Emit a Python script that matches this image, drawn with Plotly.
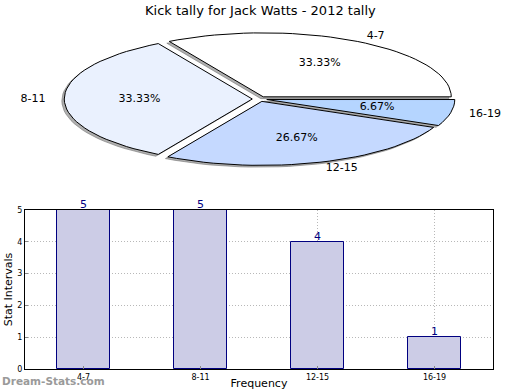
import math
import plotly.graph_objects as go

categories = ["4-7", "8-11", "12-15", "16-19"]
counts = [5, 5, 4, 1]
slice_colors = ["#FFFFFF", "#EAF1FE", "#C5D9FF", "#B5D5FF"]
title_text = "Kick tally for Jack Watts - 2012 tally"

W, H = 520, 390
RX, RY = 188.0, 64.0          # pixel radii of the squashed pie
CX, CY = 259.6, 99.0          # pixel center
EXPLODE = 0.039
SHADOW_DX, SHADOW_DY = -0.013, -0.028

fig = go.Figure()

total = sum(counts)
start = 0.0
label_x, label_y, label_t, label_pos = [], [], [], []
pct_x, pct_y, pct_t = [], [], []
slices = []
for cat, v, col in zip(categories, counts, slice_colors):
    frac = v / total
    a0 = start * 2 * math.pi
    a1 = (start + frac) * 2 * math.pi
    mid = (a0 + a1) / 2
    ox, oy = EXPLODE * math.cos(mid), EXPLODE * math.sin(mid)
    n = max(8, int(120 * frac))
    xs = [ox] + [ox + math.cos(a0 + (a1 - a0) * i / n) for i in range(n + 1)] + [ox]
    ys = [oy] + [oy + math.sin(a0 + (a1 - a0) * i / n) for i in range(n + 1)] + [oy]
    slices.append((xs, ys, col))
    lx = ox + 1.1 * math.cos(mid)
    ly = oy + 1.1 * math.sin(mid)
    label_x.append(lx); label_y.append(ly); label_t.append(cat)
    label_pos.append("middle right" if math.cos(mid) > 0 else "middle left")
    pct_x.append(ox + 0.6 * math.cos(mid)); pct_y.append(oy + 0.6 * math.sin(mid))
    pct_t.append(f"{frac*100:.2f}%")
    start += frac

# shadows
for xs, ys, col in slices:
    fig.add_trace(go.Scatter(x=[x + SHADOW_DX for x in xs], y=[y + SHADOW_DY for y in ys],
                             mode="lines", fill="toself", fillcolor="rgba(110,110,110,0.55)",
                             line=dict(color="rgba(110,110,110,0.55)", width=1),
                             hoverinfo="skip", showlegend=False, xaxis="x", yaxis="y"))
for xs, ys, col in slices:
    fig.add_trace(go.Scatter(x=xs, y=ys, mode="lines", fill="toself", fillcolor=col,
                             line=dict(color="black", width=1), hoverinfo="skip",
                             showlegend=False, xaxis="x", yaxis="y"))
for x, y, t, p in zip(label_x, label_y, label_t, label_pos):
    fig.add_trace(go.Scatter(x=[x], y=[y], mode="text", text=[t], textposition=p,
                             textfont=dict(family="DejaVu Sans", size=11, color="black"),
                             showlegend=False, hoverinfo="skip", xaxis="x", yaxis="y"))
fig.add_trace(go.Scatter(x=pct_x, y=pct_y, mode="text", text=pct_t, textposition="middle center",
                         textfont=dict(family="DejaVu Sans", size=11, color="black"),
                         showlegend=False, hoverinfo="skip", xaxis="x", yaxis="y"))

# bar chart
fig.add_trace(go.Bar(x=categories, y=counts, width=0.45, marker=dict(color="#CCCCE6",
                     line=dict(color="#000080", width=1)), showlegend=False,
                     xaxis="x2", yaxis="y2", hoverinfo="skip"))
for c, v in zip(categories, counts):
    fig.add_annotation(x=c, y=v, xref="x2", yref="y2", text=str(v), showarrow=False,
                       yanchor="bottom", yshift=-3,
                       font=dict(family="DejaVu Sans", size=11, color="#000080"))

x_left = -CX / RX
x_right = (W - CX) / RX
y_top = CY / RY
y_bot = -(H - CY) / RY

fig.update_layout(
    width=W, height=H, margin=dict(l=0, r=0, t=0, b=0, autoexpand=False),
    paper_bgcolor="white", plot_bgcolor="rgba(0,0,0,0)",
    font=dict(family="DejaVu Sans", color="black"),
    xaxis=dict(domain=[0, 1], range=[x_left, x_right], visible=False, fixedrange=True),
    yaxis=dict(domain=[0, 1], range=[y_bot, y_top], visible=False, fixedrange=True),
    xaxis2=dict(domain=[25 / W, 493 / W], anchor="y2", range=[-0.5, 3.5], automargin=False,
                showline=True, linecolor="black", linewidth=1, mirror=True,
                showgrid=True, gridcolor="#b8b8b8", griddash="1px,2px", gridwidth=1,
                ticks="inside", ticklen=3, tickcolor="#888", layer="above traces",
                tickfont=dict(size=8, family="DejaVu Sans"),
                title=dict(text="Frequency", font=dict(size=11), standoff=15)),
    yaxis2=dict(domain=[(H - 369) / H, (H - 210) / H], anchor="x2", range=[0, 5], automargin=False,
                showline=True, linecolor="black", linewidth=1, mirror=True,
                showgrid=True, gridcolor="#b8b8b8", griddash="1px,2px", gridwidth=1,
                ticks="inside", ticklen=3, tickcolor="#888", layer="above traces",
                dtick=1, tickfont=dict(size=8, family="DejaVu Sans"), zeroline=False,
                title=dict(text="Stat Intervals", font=dict(size=11), standoff=2)),
    bargap=0,
)
fig.add_annotation(text=title_text, xref="paper", yref="paper", x=0.5, y=1 - 10 / H,
                   showarrow=False, yanchor="middle",
                   font=dict(family="DejaVu Sans", size=13, color="black"))
fig.add_annotation(text="<b>Dream-Stats.com</b>", xref="paper", yref="paper", x=0, y=1 - 381 / H,
                   xanchor="left", yanchor="middle", showarrow=False,
                   font=dict(family="DejaVu Sans", size=10.5, color="#9a9a9a"))

fig.write_html("out.html", config={"displayModeBar": False},
               post_script="document.body.style.margin='0';document.body.style.padding='0';"
                           "document.documentElement.style.overflow='hidden';")
